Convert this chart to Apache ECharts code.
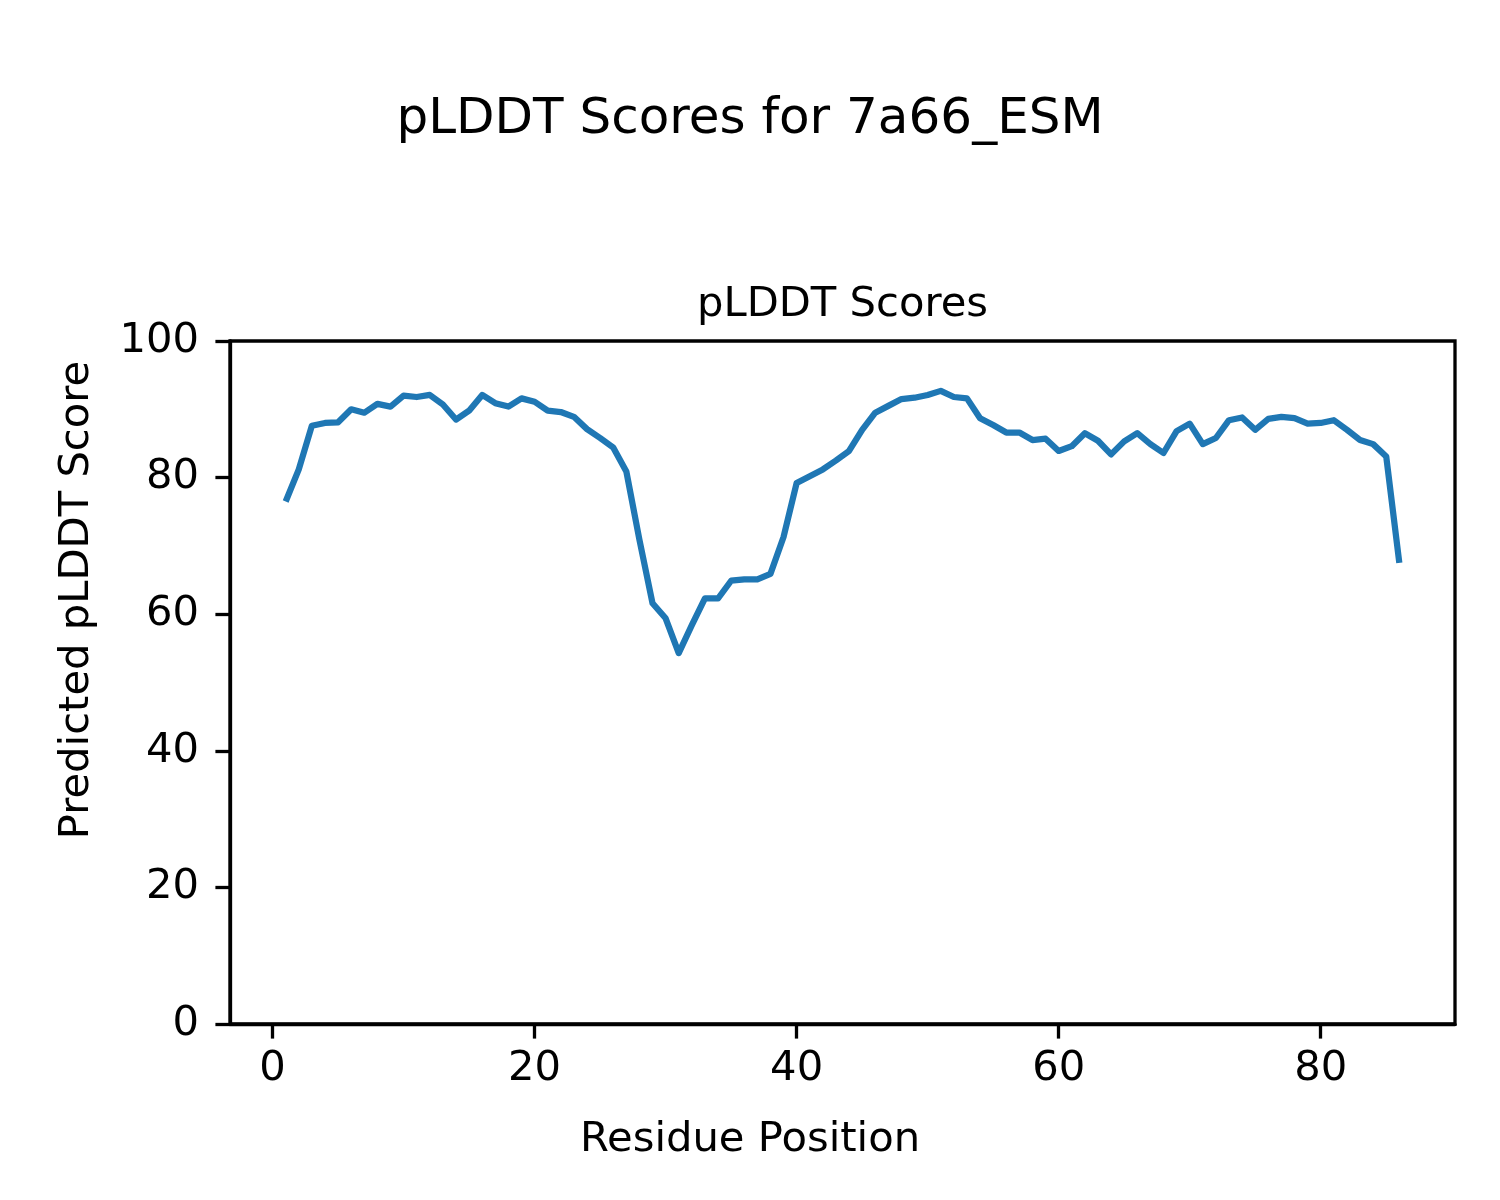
<!DOCTYPE html>
<html>
<head>
<meta charset="utf-8">
<script src="https://cdn.jsdelivr.net/npm/echarts@6/dist/echarts.min.js"></script>
<style>
html,body{margin:0;padding:0;background:#fff;}
#chart{width:1500px;height:1200px;}
</style>
</head>
<body>
<div id="chart"></div>
<script>
// Residue positions 1..86
const residues = [1,2,3,4,5,6,7,8,9,10,11,12,13,14,15,16,17,18,19,20,
  21,22,23,24,25,26,27,28,29,30,31,32,33,34,35,36,37,38,39,40,
  41,42,43,44,45,46,47,48,49,50,51,52,53,54,55,56,57,58,59,60,
  61,62,63,64,65,66,67,68,69,70,71,72,73,74,75,76,77,78,79,80,
  81,82,83,84,85,86];
const plddt = [76.5,81.2,87.6,88.0,88.1,90.0,89.5,90.8,90.4,92.0,
  91.8,92.1,90.7,88.5,89.8,92.1,90.9,90.4,91.6,91.1,
  89.8,89.6,88.9,87.1,85.8,84.4,80.9,70.9,61.6,59.4,
  54.3,58.4,62.3,62.3,64.9,65.1,65.1,65.9,71.3,79.2,
  80.2,81.2,82.5,83.9,87.0,89.5,90.5,91.5,91.7,92.1,
  92.7,91.8,91.6,88.7,87.7,86.6,86.6,85.5,85.7,83.9,
  84.6,86.5,85.4,83.4,85.3,86.5,84.9,83.6,86.8,87.9,
  84.9,85.8,88.4,88.8,87.0,88.6,88.9,88.7,87.9,88.0,
  88.4,87.0,85.5,84.9,83.1,67.5];
const xTicks = [0,20,40,60,80];
const suptitle = 'pLDDT Scores for 7a66_ESM';
const axTitle = 'pLDDT Scores';
const xLabel = 'Residue Position';
const yLabel = 'Predicted pLDDT Score';

const FONT = 'DejaVu Sans';
const chart = echarts.init(document.getElementById('chart'), null, {renderer:'canvas'});
const data = residues.map((r,i)=>[r, plddt[i]]);

chart.setOption({
  animation:false,
  backgroundColor:'#ffffff',
  textStyle:{fontFamily:FONT},
  grid:{left:230, top:341, right:45, bottom:176, show:true, borderColor:'#000', borderWidth:3.3, backgroundColor:'transparent'},
  xAxis:{
    type:'value', min:-3.25, max:90.25,
    axisLine:{show:true, onZero:false, lineStyle:{color:'#000', width:3.3}},
    axisTick:{show:true, customValues:xTicks, length:14.6, lineStyle:{color:'#000', width:3.3}},
    axisLabel:{show:true, customValues:xTicks, margin:24, fontSize:41.7, color:'#000', fontFamily:FONT},
    splitLine:{show:false}
  },
  yAxis:{
    type:'value', min:0, max:100, interval:20,
    axisLine:{show:true, onZero:false, lineStyle:{color:'#000', width:3.3}},
    axisTick:{show:true, length:14.6, lineStyle:{color:'#000', width:3.3}},
    axisLabel:{margin:31, fontSize:41.7, color:'#000', fontFamily:FONT},
    splitLine:{show:false}
  },
  series:[{
    type:'line', data:data, showSymbol:false, symbol:'none',
    lineStyle:{color:'#1f77b4', width:6.25, join:'round', cap:'butt'},
    itemStyle:{color:'#1f77b4'}
  }],
  graphic:[
    {type:'text', x:750, y:120, style:{text:suptitle, font:'50px "DejaVu Sans"', fill:'#000', align:'center', verticalAlign:'middle'}},
    {type:'text', x:842.5, y:305, style:{text:axTitle, font:'41.7px "DejaVu Sans"', fill:'#000', align:'center', verticalAlign:'middle'}},
    {type:'text', x:750, y:1140, style:{text:xLabel, font:'41.7px "DejaVu Sans"', fill:'#000', align:'center', verticalAlign:'middle'}},
    {type:'text', x:77, y:600, rotation:Math.PI/2, style:{text:yLabel, font:'41.7px "DejaVu Sans"', fill:'#000', align:'center', verticalAlign:'middle'}}
  ]
});
</script>
</body>
</html>
